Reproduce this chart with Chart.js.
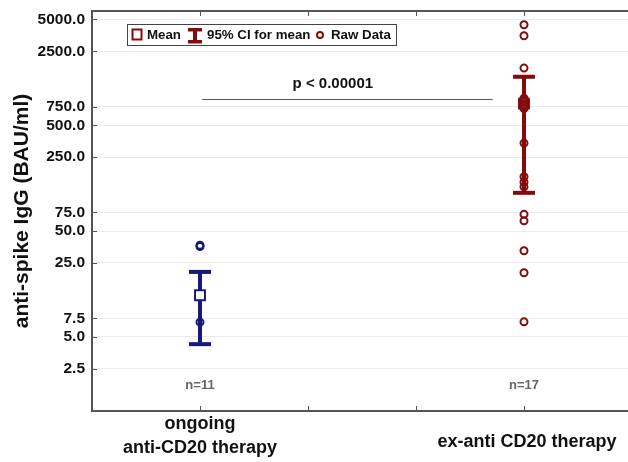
<!DOCTYPE html>
<html><head><meta charset="utf-8">
<script src="https://cdn.jsdelivr.net/npm/chart.js@4/dist/chart.umd.min.js"></script>
<style>html,body{margin:0;padding:0;background:#fff}#wrap{width:628px;height:462px}</style>
</head><body><div id="wrap"><canvas id="c" width="628" height="462"></canvas></div>
<script>
// ---- data ----
const groups = [['ongoing', 'anti-CD20 therapy'], ['ex-anti CD20 therapy']];
const groupX = [1, 4];
const groupN = ['n=11', 'n=17'];
const rawOngoing = [36.8, 35.8, 6.9];
const rawEx = [4444, 3500, 1733, 900, 850, 800, 760, 720, 339, 163, 145, 131, 72, 62.5, 32.6, 20.2, 6.95];
const means = [12.4, 800];
const ciLow = [4.28, 115];
const ciHigh = [20.6, 1435];
const yTicks = [2.5, 5, 7.5, 25, 50, 75, 250, 500, 750, 2500, 5000];
const pText = 'p < 0.00001';
const yTitle = 'anti-spike IgG (BAU/ml)';

const NAVY = '#141a7a';
const RED = '#840c0c';
const FONT = '"Liberation Sans", Arial, Helvetica, sans-serif';

const annot = { lineX1: 1.02, lineX2: 3.71, lineY: 880, textX: 2.23, textY: 1224 };

const decor = {
  id: 'decor',
  beforeDatasetsDraw(chart) {
    const ctx = chart.ctx, xs = chart.scales.x, ys = chart.scales.y;
    const colors = [NAVY, RED];
    ctx.save();
    for (let i = 0; i < groupX.length; i++) {
      const x = xs.getPixelForValue(groupX[i]);
      const yh = ys.getPixelForValue(ciHigh[i]);
      const yl = ys.getPixelForValue(ciLow[i]);
      ctx.strokeStyle = colors[i];
      ctx.fillStyle = colors[i];
      ctx.lineWidth = 4;
      ctx.beginPath(); ctx.moveTo(x, yh); ctx.lineTo(x, yl); ctx.stroke();
      ctx.fillRect(x - 11, yh - 2, 22, 4);
      ctx.fillRect(x - 11, yl - 2, 22, 4);
    }
    ctx.restore();
  },
  afterDraw(chart) {
    const ctx = chart.ctx, xs = chart.scales.x, ys = chart.scales.y, a = chart.chartArea;
    ctx.save();
    // top frame
    ctx.strokeStyle = '#555'; ctx.lineWidth = 2;
    ctx.beginPath(); ctx.moveTo(a.left - 1, a.top); ctx.lineTo(a.right, a.top); ctx.stroke();
    // inward ticks
    ctx.lineWidth = 1;
    ctx.beginPath();
    yTicks.forEach(v => { const y = Math.round(ys.getPixelForValue(v)) + 0.5; ctx.moveTo(a.left, y); ctx.lineTo(a.left + 5, y); });
    [1, 2, 3, 4].forEach(v => {
      const x = Math.round(xs.getPixelForValue(v)) + 0.5;
      ctx.moveTo(x, a.bottom); ctx.lineTo(x, a.bottom - 5);
      ctx.moveTo(x, a.top); ctx.lineTo(x, a.top + 5);
    });
    ctx.stroke();
    // x labels
    ctx.fillStyle = '#111';
    ctx.font = 'bold 18px ' + FONT;
    ctx.textAlign = 'center'; ctx.textBaseline = 'middle';
    groups.forEach((lines, i) => {
      const x = xs.getPixelForValue(groupX[i]);
      if (lines.length === 2) {
        ctx.fillText(lines[0], x, 424);
        ctx.fillText(lines[1], x, 448);
      } else {
        ctx.fillText(lines[0], x + 3, 442);
      }
    });
    // n labels
    ctx.fillStyle = '#666';
    ctx.font = 'bold 13px ' + FONT;
    groupN.forEach((t, i) => ctx.fillText(t, xs.getPixelForValue(groupX[i]), 385));
    // p-value
    ctx.strokeStyle = '#555'; ctx.lineWidth = 1;
    const ly = Math.round(ys.getPixelForValue(annot.lineY)) + 0.5;
    ctx.beginPath(); ctx.moveTo(xs.getPixelForValue(annot.lineX1), ly); ctx.lineTo(xs.getPixelForValue(annot.lineX2), ly); ctx.stroke();
    ctx.fillStyle = '#111';
    ctx.font = 'bold 15px ' + FONT;
    ctx.fillText(pText, xs.getPixelForValue(annot.textX), ys.getPixelForValue(annot.textY));
    // legend
    ctx.fillStyle = '#fff';
    ctx.fillRect(127, 24.5, 270, 21.5);
    ctx.strokeStyle = '#444'; ctx.lineWidth = 1;
    ctx.strokeRect(127.5, 24.5, 269, 21);
    ctx.strokeStyle = RED; ctx.lineWidth = 2;
    ctx.strokeRect(132.5, 29.5, 9, 10);
    ctx.fillStyle = RED;
    ctx.fillRect(188, 28, 14, 3.5);
    ctx.fillRect(188, 40, 14, 3.5);
    ctx.fillRect(193, 28, 4, 15);
    ctx.beginPath(); ctx.arc(320, 35, 3, 0, Math.PI * 2); ctx.stroke();
    ctx.fillStyle = '#111';
    ctx.font = 'bold 13.3px ' + FONT;
    ctx.textAlign = 'left';
    ctx.fillText('Mean', 147, 35.5);
    ctx.fillText('95% CI for mean', 207, 35.5);
    ctx.fillText('Raw Data', 331, 35.5);
    ctx.restore();
  }
};

new Chart(document.getElementById('c'), {
  type: 'scatter',
  data: {
    datasets: [
      { label: 'Raw Data ongoing', data: rawOngoing.map(v => ({ x: groupX[0], y: v })),
        pointStyle: 'circle', pointRadius: 3.5, pointBorderWidth: 2, borderColor: NAVY, backgroundColor: 'rgba(0,0,0,0)' },
      { label: 'Raw Data ex', data: rawEx.map(v => ({ x: groupX[1], y: v })),
        pointStyle: 'circle', pointRadius: 3.5, pointBorderWidth: 2, borderColor: RED, backgroundColor: 'rgba(0,0,0,0)' },
      { label: 'Mean', data: means.map((v, i) => ({ x: groupX[i], y: v })),
        pointStyle: 'rect', pointRadius: 7, pointBorderWidth: 2, borderColor: [NAVY, RED], backgroundColor: '#fff' }
    ]
  },
  options: {
    responsive: false,
    animation: false,
    events: [],
    layout: { autoPadding: false, padding: { top: 11, right: 0, left: 0, bottom: 0 } },
    plugins: { legend: { display: false }, tooltip: { enabled: false } },
    scales: {
      x: {
        type: 'linear', min: 0, max: 4.963,
        grid: { display: false, drawTicks: false },
        border: { display: true, color: '#555', width: 2 },
        ticks: { display: false },
        afterFit(s) { s.height = 51; s.paddingLeft = 0; s.paddingRight = 0; }
      },
      y: {
        type: 'logarithmic', min: 1, max: 6000,
        afterBuildTicks(s) { s.ticks = yTicks.map(v => ({ value: v })); },
        ticks: {
          callback: v => Number(v).toFixed(1),
          font: { family: FONT, size: 15.5, weight: 'bold' },
          color: '#111', padding: 7, autoSkip: false
        },
        grid: { color: '#ebebeb', lineWidth: 1, drawTicks: false },
        border: { display: true, color: '#555', width: 2 },
        title: {
          display: true, text: yTitle, color: '#111',
          font: { family: FONT, size: 21, weight: 'bold' },
          padding: { top: 10, bottom: 0 }
        },
        afterFit(s) { s.width = 92; s.paddingTop = 0; s.paddingBottom = 0; }
      }
    }
  },
  plugins: [decor]
});
</script>
</body></html>
